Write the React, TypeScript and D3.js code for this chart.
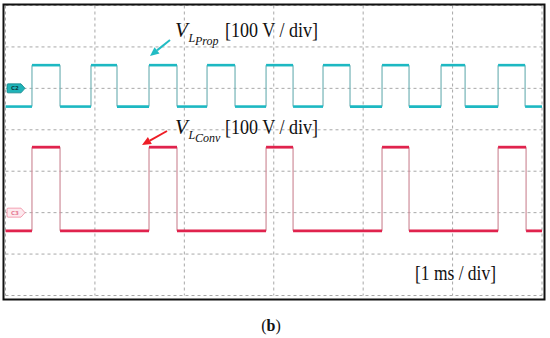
import React from 'react';
import * as d3 from 'd3';

// time axis (ms) and vertical divisions
const timeDomain = [0, 6];
const divCount = 7;

// C2 trace (V_LProp) edges in ms, levels in V
const cyanRise = [0.296, 0.956, 1.605, 2.254, 2.914, 3.551, 4.211, 4.871, 5.509];
const cyanFall = [0.61, 1.247, 1.918, 2.567, 3.216, 3.853, 4.513, 5.14, 5.811];
const cyanLevels = [-44, 56];
const cyanOffsetDiv = 2;

// C3 trace (V_LConv)
const redRise = [0.296, 1.605, 2.914, 4.211, 5.509];
const redFall = [0.61, 1.918, 3.216, 4.513, 5.822];
const redLevels = [-44, 158];
const redOffsetDiv = 5;

const voltsPerDiv = 100;

const W = 550;
const H = 338;
const plot = { left: 5.5, right: 542, top: 5.5, bottom: 295.5 };

type Seg = { x1: number; y1: number; x2: number; y2: number };

function buildTrace(rise: number[], fall: number[], levels: number[], offsetDiv: number,
  x: d3.ScaleLinear<number, number>, yDiv: d3.ScaleLinear<number, number>) {
  const yv = (v: number) => yDiv(offsetDiv - v / voltsPerDiv);
  const edges = [
    ...rise.map(t => ({ t, up: true })),
    ...fall.map(t => ({ t, up: false })),
  ].sort((a, b) => a.t - b.t);
  const horiz: Seg[] = [];
  const vert: Seg[] = [];
  let t0 = timeDomain[0];
  let level = levels[0];
  edges.forEach(e => {
    horiz.push({ x1: x(t0), y1: yv(level), x2: x(e.t), y2: yv(level) });
    const next = e.up ? levels[1] : levels[0];
    vert.push({ x1: x(e.t), y1: yv(level), x2: x(e.t), y2: yv(next) });
    level = next;
    t0 = e.t;
  });
  horiz.push({ x1: x(t0), y1: yv(level), x2: x(timeDomain[1]), y2: yv(level) });
  return { horiz, vert };
}

const Arrow: React.FC<{ x1: number; y1: number; x2: number; y2: number; color: string }> = ({ x1, y1, x2, y2, color }) => {
  const ang = Math.atan2(y2 - y1, x2 - x1);
  const len = 9;
  const half = 4;
  const bx = x2 - len * Math.cos(ang);
  const by = y2 - len * Math.sin(ang);
  const px = -Math.sin(ang) * half;
  const py = Math.cos(ang) * half;
  return (
    <g>
      <line x1={x1} y1={y1} x2={bx} y2={by} stroke={color} strokeWidth={2} />
      <polygon points={`${x2},${y2} ${bx + px},${by + py} ${bx - px},${by - py}`} fill={color} />
    </g>
  );
};

const Marker: React.FC<{ y: number; label: string; fill: string; stroke: string; text: string }> = ({ y, label, fill, stroke, text }) => (
  <g>
    <path d={`M8,${y - 4.5} L21,${y - 4.5} L25,${y} L21,${y + 4.5} L8,${y + 4.5} Q7,${y + 4.5} 7,${y + 3.5} L7,${y - 3.5} Q7,${y - 4.5} 8,${y - 4.5} Z`}
      fill={fill} stroke={stroke} strokeWidth={0.8} />
    <text x={15} y={y + 2} fontSize={5.5} fontFamily="DejaVu Sans" fontWeight="bold" fill={text} textAnchor="middle">{label}</text>
  </g>
);

const App: React.FC = () => {
  const x = d3.scaleLinear().domain(timeDomain).range([plot.left, plot.right]);
  const yDiv = d3.scaleLinear().domain([0, divCount]).range([plot.top, plot.bottom]);

  const cyan = buildTrace(cyanRise, cyanFall, cyanLevels, cyanOffsetDiv, x, yDiv);
  const red = buildTrace(redRise, redFall, redLevels, redOffsetDiv, x, yDiv);

  const vTicks = d3.range(timeDomain[0], timeDomain[1] + 1);
  const hTicks = d3.range(0, divCount + 1);
  const serif = "'Liberation Serif', 'DejaVu Serif', serif";

  return (
    <svg width={W} height={H} style={{ position: 'absolute', left: 0, top: 0, background: '#fff' }}>
      <rect x={0} y={0} width={W} height={H} fill="#fff" />
      {/* graticule */}
      <g stroke="#a8a8a8" strokeWidth={1} strokeDasharray="3,3">
        {vTicks.map(t => (
          <line key={'v' + t} x1={x(t)} x2={x(t)} y1={plot.top} y2={plot.bottom} />
        ))}
        {hTicks.map(d => (
          <line key={'h' + d} x1={plot.left} x2={plot.right} y1={yDiv(d)} y2={yDiv(d)} />
        ))}
      </g>

      {/* traces */}
      <g>
        {cyan.vert.map((s, i) => (
          <line key={'cv' + i} {...s} stroke="#74b3b6" strokeWidth={1.2} />
        ))}
        {cyan.horiz.map((s, i) => (
          <line key={'ch' + i} {...s} stroke="#1db8c2" strokeWidth={2.6} />
        ))}
        {red.vert.map((s, i) => (
          <line key={'rv' + i} {...s} stroke="#cf8e9a" strokeWidth={1.2} />
        ))}
        {red.horiz.map((s, i) => (
          <line key={'rh' + i} {...s} stroke="#e0234d" strokeWidth={2.8} />
        ))}
      </g>

      <Marker y={yDiv(cyanOffsetDiv)} label="C2" fill="#1fb3b8" stroke="#12858a" text="#0d3f44" />
      <Marker y={yDiv(redOffsetDiv)} label="C3" fill="#fde9ee" stroke="#f08aa0" text="#e57a92" />

      {/* annotations */}
      <Arrow x1={170} y1={40} x2={150} y2={56} color="#22bcc4" />
      <Arrow x1={167} y1={131} x2={142} y2={145} color="#ee1c25" />

      <g fontFamily={serif} fill="#111">
        <text x={175} y={37} fontSize={21} fontStyle="italic">V</text>
        <text x={188.5} y={42} fontSize={12} fontStyle="italic">L</text>
        <text x={195} y={45} fontSize={12} fontStyle="italic">Prop</text>
        <text x={225} y={37} fontSize={20} textLength={93} lengthAdjust="spacingAndGlyphs">[100 V / div]</text>

        <text x={175} y={134} fontSize={21} fontStyle="italic">V</text>
        <text x={188.5} y={139} fontSize={12} fontStyle="italic">L</text>
        <text x={195} y={142} fontSize={12} fontStyle="italic">Conv</text>
        <text x={225} y={134} fontSize={20} textLength={93} lengthAdjust="spacingAndGlyphs">[100 V / div]</text>

        <text x={415} y={280} fontSize={20} textLength={81} lengthAdjust="spacingAndGlyphs">[1 ms / div]</text>
        <text x={271} y={331} fontSize={16} textAnchor="middle">(<tspan fontWeight="bold">b</tspan>)</text>
      </g>

      {/* frame */}
      <rect x={3.5} y={4.5} width={541} height={295} fill="none" stroke="#111" strokeWidth={2} />
    </svg>
  );
};

export default App;
